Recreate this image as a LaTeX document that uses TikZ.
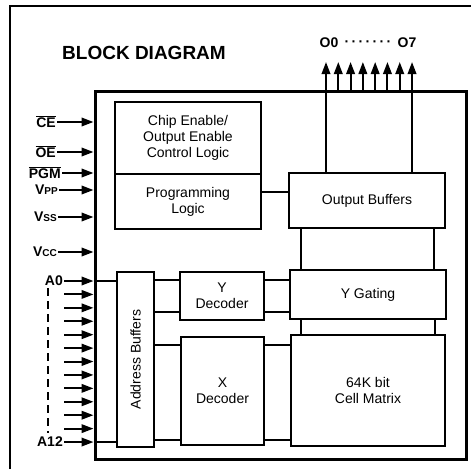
\documentclass[tikz,border=0pt]{standalone}
\usepackage{fontspec}
\setmainfont{Liberation Sans}
\usetikzlibrary{arrows.meta}
\begin{document}
\begin{tikzpicture}[x=1pt,y=-1pt,
  box/.style={draw, line width=2.3pt, inner sep=0pt, align=center, font=\fontsize{14}{16}\selectfont},
  wire/.style={line width=2pt},
  pin/.style={line width=2pt, -{Triangle[length=12pt,width=8.5pt]}},
  pinlab/.style={anchor=east, inner sep=1pt, font=\bfseries\fontsize{14}{14}\selectfont}]
\useasboundingbox (0,0) rectangle (471,469);
% outer frame
\draw[line width=1.3pt] (10,469) -- (10,6) -- (471,6);
% title
\node[anchor=west, font=\bfseries\fontsize{19}{20}\selectfont, inner sep=0pt] (title) at (62,53) {BLOCK DIAGRAM};
% chip outline
\node[draw, line width=3pt, minimum width=371pt, minimum height=368pt, inner sep=0pt] (chip) at (280.5,275) {};
% blocks
\node[box, minimum width=146pt, minimum height=72pt] (ce) at (188,138) {Chip Enable/\\Output Enable\\Control Logic};
\node[box, minimum width=146pt, minimum height=55pt] (pl) at (188,201.5) {Programming\\Logic};
\node[box, minimum width=156pt, minimum height=55pt] (ob) at (367,200.5) {Output Buffers};
\node[box, minimum width=156pt, minimum height=49pt] (yg) at (368,294.5) {Y Gating};
\node[box, minimum width=154pt, minimum height=111pt] (cm) at (368,390.5) {64K bit\\Cell Matrix};
\node[box, minimum width=84pt, minimum height=48pt] (yd) at (222,296) {Y\\Decoder};
\node[box, minimum width=83pt, minimum height=108pt] (xd) at (222.5,391) {X\\Decoder};
\node[box, minimum width=37pt, minimum height=175pt] (ab) at (135.5,359.5) {};
\node[rotate=90, font=\fontsize{14}{16}\selectfont, inner sep=0pt] (abt) at (ab.center) {Address Buffers};
% internal wires
\draw[wire] (pl.east |- 0,192) -- (ob.west |- 0,192);
\draw[wire] (ob.south -| 301,0) -- (yg.north -| 301,0);
\draw[wire] (ob.south -| 434,0) -- (yg.north -| 434,0);
\draw[wire] (yg.south -| 301,0) -- (cm.north -| 301,0);
\draw[wire] (yg.south -| 435,0) -- (cm.north -| 435,0);
\draw[wire] (ab.east |- 0,280) -- (yd.west |- 0,280);
\draw[wire] (ab.east |- 0,312) -- (yd.west |- 0,312);
\draw[wire] (yd.east |- 0,280) -- (yg.west |- 0,280);
\draw[wire] (yd.east |- 0,312) -- (yg.west |- 0,312);
\draw[wire] (ab.east |- 0,345) -- (xd.west |- 0,345);
\draw[wire] (ab.east |- 0,440) -- (xd.west |- 0,440);
\draw[wire] (xd.east |- 0,345) -- (cm.west |- 0,345);
\draw[wire] (xd.east |- 0,440) -- (cm.west |- 0,440);
% outputs
\foreach \i in {0,...,7} {
  \coordinate (o\i) at ({326+\i*12.29},62);
  \draw[pin] (o\i |- chip.north) -- (o\i);
}
\draw[wire] (ob.north -| o0) -- (o0 |- chip.north);
\draw[wire] (ob.north -| o7) -- (o7 |- chip.north);
\node[font=\bfseries\fontsize{14}{14}\selectfont, inner sep=0pt] (o0l) at (329,43) {O0};
\node[font=\bfseries\fontsize{14}{14}\selectfont, inner sep=0pt] (o7l) at (407,43) {O7};
\node[font=\bfseries\fontsize{14}{14}\selectfont, inner sep=0pt] (odots) at (368,44) {·\,·\,·\,·\,·\,·\,·};
% control pins
\foreach \n/\y/\x in {ce/122/57, oe/152/57, pgm/173/62, vpp/190/59, vss/217/58, vcc/252/58} {
  \coordinate (\n) at (\x,\y);
  \draw[pin] (\n) -- (\n -| chip.west);
}
\node[pinlab] (lce) at (ce) {$\overline{\hbox{CE}}$};
\node[pinlab] (loe) at (oe) {$\overline{\hbox{OE}}$};
\node[pinlab] (lpgm) at (pgm) {$\overline{\hbox{PGM}}$};
\node[pinlab] (lvpp) at (vpp) {V{\fontsize{10}{10}\selectfont PP}};
\node[pinlab] (lvss) at (vss) {V{\fontsize{10}{10}\selectfont SS}};
\node[pinlab] (lvcc) at (vcc) {V{\fontsize{10}{10}\selectfont CC}};
% address pins
\foreach \i in {0,...,12} {
  \coordinate (a\i) at (64,{281+\i*13.42});
  \draw[pin] (a\i) -- (a\i -| chip.west);
}
\draw[wire] (a0 -| chip.west) -- (a0 -| ab.west);
\draw[wire] (a12 -| chip.west) -- (a12 -| ab.west);
\node[pinlab] (la0) at (a0) {A0};
\node[pinlab] (la12) at (a12) {A12};
\coordinate (dtop) at (48,288);
\coordinate (dbot) at (48,433);
\draw[line width=2.8pt, dash pattern=on 8pt off 5pt] (dtop) -- (dbot);
\end{tikzpicture}
\end{document}
